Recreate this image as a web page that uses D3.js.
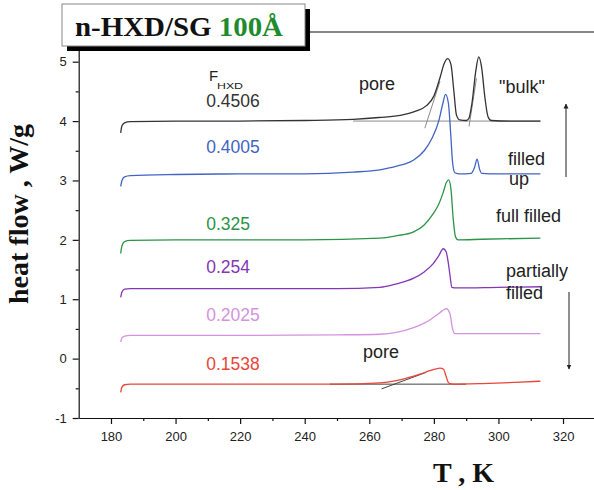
<!DOCTYPE html>
<html>
<head>
<meta charset="utf-8">
<script src="https://cdn.jsdelivr.net/npm/d3@7"></script>
<style>
  html, body { margin: 0; padding: 0; background: #fff; }
  svg { display: block; }
</style>
</head>
<body>
<svg id="chart"></svg>
<script>
// DSC heating curves, T in K, heat flow in W/g
const fractions = ["0.4506", "0.4005", "0.325", "0.254", "0.2025", "0.1538"];

const curveBlack = [[183, 3.80], [183.4, 3.92], [184.2, 3.97], [186, 3.99], [200, 4.0], [220, 4.0], [240, 4.01], [255, 4.03], [263, 4.06], [270, 4.1], [274, 4.16], [277.7, 4.26], [280, 4.42], [281.9, 4.73], [283.2, 4.97], [284.3, 5.05], [285.3, 4.95], [286.2, 4.5], [287, 4.1], [288, 4.02], [290, 4.01], [290.8, 4.04], [291.8, 4.3], [293, 4.85], [293.9, 5.08], [294.8, 4.9], [295.8, 4.4], [296.8, 4.07], [297.8, 4.01], [305, 4.0], [313, 4.0]];
const curveBlue = [[183, 2.90], [183.4, 3.0], [184.2, 3.06], [186, 3.08], [200, 3.1], [220, 3.11], [240, 3.11], [255, 3.14], [263.3, 3.18], [268.5, 3.24], [273.6, 3.34], [277, 3.5], [279.5, 3.72], [281.5, 4.0], [282.8, 4.3], [283.6, 4.45], [284.5, 4.3], [285.2, 3.8], [285.8, 3.3], [286.5, 3.13], [288, 3.11], [291.5, 3.12], [292.6, 3.22], [293.4, 3.36], [294.1, 3.2], [294.8, 3.12], [300, 3.11], [313, 3.11]];
const curveGreen = [[183, 1.77], [183.4, 1.9], [184.2, 1.97], [186, 1.99], [200, 2.0], [240, 2.0], [263.3, 2.03], [268.5, 2.07], [273.6, 2.13], [277, 2.25], [279.8, 2.44], [281.5, 2.6], [282.9, 2.8], [283.9, 2.97], [284.6, 3.01], [285.3, 2.85], [286, 2.35], [286.7, 2.05], [287.5, 2.0], [295, 2.01], [313, 2.03]];
const curvePurple = [[183, 1.03], [183.4, 1.12], [184.2, 1.17], [186, 1.18], [220, 1.18], [250, 1.18], [263.3, 1.2], [268.5, 1.26], [273.6, 1.35], [277, 1.46], [279.8, 1.6], [281.5, 1.73], [282.9, 1.85], [283.8, 1.8], [284.5, 1.6], [285, 1.4], [285.6, 1.2], [287, 1.19], [300, 1.2], [313, 1.21]];
const curvePink = [[183, 0.28], [183.4, 0.35], [184.2, 0.38], [186, 0.39], [220, 0.39], [250, 0.4], [263.3, 0.41], [268.4, 0.44], [273, 0.51], [276.7, 0.59], [279, 0.66], [280.8, 0.73], [282.5, 0.8], [283.9, 0.84], [285, 0.75], [285.8, 0.5], [286.5, 0.42], [295, 0.42], [313, 0.42]];
const curveRed = [[183, -0.57], [183.4, -0.48], [184.2, -0.44], [186, -0.43], [220, -0.43], [250, -0.43], [263.3, -0.41], [268.4, -0.37], [272, -0.32], [275.7, -0.26], [279, -0.2], [281.9, -0.16], [283, -0.18], [283.8, -0.3], [284.6, -0.41], [286, -0.43], [295, -0.42], [305, -0.4], [313, -0.38]];

// onset construction lines
const guideBaseTop = [[255, 4.0], [313, 4.0]];
const guidePoreTop = [[277.2, 3.88], [281.9, 4.67]];
const guideBulkTop = [[290.9, 3.91], [293.2, 4.72]];
const guideBaseLow = [[247.8, -0.43], [290, -0.43]];
const guidePoreLow = [[263.8, -0.51], [277.7, -0.23]];

const xTicks = [180, 200, 220, 240, 260, 280, 300, 320];
const xMinor = [190, 210, 230, 250, 270, 290, 310];
const yTicks = [-1, 0, 1, 2, 3, 4, 5];
const yMinor = [-0.5, 0.5, 1.5, 2.5, 3.5, 4.5];

const curves = [curveBlack, curveBlue, curveGreen, curvePurple, curvePink, curveRed];
const colors = ["#333333", "#4264c4", "#2a9448", "#8436b4", "#d493de", "#e8463a"];

const width = 594, height = 490;

const svg = d3.select("#chart")
    .attr("width", width)
    .attr("height", height)
    .style("font-family", "'Liberation Sans', Arial, sans-serif");

const x = d3.scaleLinear().domain([170, 330]).range([78.7, 595.3]);
const y = d3.scaleLinear().domain([-1, 5.5]).range([418, 32]);

const line = d3.line()
    .x(d => x(d[0]))
    .y(d => y(d[1]))
    .curve(d3.curveMonotoneX);

// axes
const gx = svg.append("g")
    .attr("transform", `translate(0,${y(-1)})`)
    .call(d3.axisBottom(x).tickValues(xTicks).tickSize(6).tickSizeOuter(0).tickPadding(8));
svg.append("g")
    .attr("transform", `translate(0,${y(-1)})`)
    .call(d3.axisBottom(x).tickValues(xMinor).tickSize(3).tickFormat(""))
    .select(".domain").remove();

const gy = svg.append("g")
    .attr("transform", `translate(${x(170)},0)`)
    .call(d3.axisLeft(y).tickValues(yTicks).tickSize(6).tickSizeOuter(0).tickPadding(6)
        .tickFormat(d => String(d)));
svg.append("g")
    .attr("transform", `translate(${x(170)},0)`)
    .call(d3.axisLeft(y).tickValues(yMinor).tickSize(3).tickFormat(""))
    .select(".domain").remove();

svg.selectAll(".domain, .tick line")
    .attr("stroke", "#111")
    .attr("stroke-width", 1.2);
svg.selectAll(".tick text")
    .attr("font-size", 13)
    .attr("fill", "#222")
    .style("font-family", "'Liberation Sans', Arial, sans-serif");

// top frame line
svg.append("line")
    .attr("x1", x(170)).attr("x2", width)
    .attr("y1", y(5.5)).attr("y2", y(5.5))
    .attr("stroke", "#111")
    .attr("stroke-width", 1.2);

// guides
[guideBaseTop, guidePoreTop, guideBulkTop].forEach(g => {
    svg.append("path").attr("d", d3.line().x(d => x(d[0])).y(d => y(d[1]))(g))
        .attr("fill", "none").attr("stroke", "#8a8a8a").attr("stroke-width", 1);
});
[guideBaseLow, guidePoreLow].forEach(g => {
    svg.append("path").attr("d", d3.line().x(d => x(d[0])).y(d => y(d[1]))(g))
        .attr("fill", "none").attr("stroke", "#444").attr("stroke-width", 1);
});

// curves
svg.selectAll("path.curve")
    .data(curves)
    .enter()
    .append("path")
    .attr("class", "curve")
    .attr("d", line)
    .attr("fill", "none")
    .attr("stroke", (d, i) => colors[i])
    .attr("stroke-width", 1.3);

// fraction labels
const labelY = [4.24, 3.46, 2.16, 1.44, 0.64, -0.2];
svg.selectAll("text.frac")
    .data(fractions)
    .enter()
    .append("text")
    .attr("class", "frac")
    .attr("x", x(209.5))
    .attr("y", (d, i) => y(labelY[i]))
    .attr("font-size", 17.5)
    .attr("fill", (d, i) => colors[i])
    .text(d => d);

svg.append("text")
    .attr("x", 209).attr("y", 80.5)
    .attr("font-size", 15).attr("fill", "#222")
    .text("F");
svg.append("text")
    .attr("x", 217).attr("y", 89)
    .attr("font-size", 8.5).attr("fill", "#222")
    .attr("textLength", 26).attr("lengthAdjust", "spacingAndGlyphs")
    .text("HXD");

// annotations
const notes = [
    ["pore", 359, 90],
    ["\"bulk\"", 499, 93],
    ["filled", 508, 165],
    ["up", 509, 185],
    ["full filled", 496, 222],
    ["partially", 506, 277],
    ["filled", 506, 299],
    ["pore", 363, 358]
];
svg.selectAll("text.note")
    .data(notes)
    .enter()
    .append("text")
    .attr("class", "note")
    .attr("x", d => d[1])
    .attr("y", d => d[2])
    .attr("font-size", 18)
    .attr("fill", "#222")
    .text(d => d[0]);

// arrows
const defs = svg.append("defs");
defs.append("marker")
    .attr("id", "head")
    .attr("viewBox", "0 0 10 10")
    .attr("refX", 9).attr("refY", 5)
    .attr("markerWidth", 5).attr("markerHeight", 7)
    .attr("markerUnits", "userSpaceOnUse")
    .attr("orient", "auto")
    .append("path")
    .attr("d", "M0,0L10,5L0,10Z")
    .attr("fill", "#222");
svg.append("line")
    .attr("x1", 566).attr("y1", 177).attr("x2", 566).attr("y2", 104)
    .attr("stroke", "#444").attr("stroke-width", 1.2)
    .attr("marker-end", "url(#head)");
svg.append("line")
    .attr("x1", 569).attr("y1", 292).attr("x2", 569).attr("y2", 369)
    .attr("stroke", "#444").attr("stroke-width", 1.2)
    .attr("marker-end", "url(#head)");

// axis titles
svg.append("text")
    .attr("transform", "translate(28,214) rotate(-90)")
    .attr("text-anchor", "middle")
    .style("font-family", "'Liberation Serif', 'Times New Roman', serif")
    .attr("font-weight", "bold")
    .attr("font-size", 28)
    .attr("fill", "#111")
    .text("heat flow , W/g");
svg.append("text")
    .attr("x", 433).attr("y", 482)
    .style("font-family", "'Liberation Serif', 'Times New Roman', serif")
    .attr("font-weight", "bold")
    .attr("font-size", 28)
    .attr("fill", "#111")
    .text("T , K");

// title box with shadow
svg.append("rect")
    .attr("x", 67).attr("y", 9).attr("width", 243).attr("height", 42)
    .attr("fill", "#000");
svg.append("rect")
    .attr("x", 62).attr("y", 4).attr("width", 243).attr("height", 42)
    .attr("fill", "#fff").attr("stroke", "#888").attr("stroke-width", 1);
const title = svg.append("text")
    .attr("x", 75).attr("y", 36)
    .style("font-family", "'Liberation Serif', 'Times New Roman', serif")
    .attr("font-weight", "bold")
    .attr("font-size", 27)
    .attr("fill", "#111")
    .attr("textLength", 208)
    .attr("lengthAdjust", "spacingAndGlyphs");
title.append("tspan").text("n-HXD/SG ");
title.append("tspan").attr("fill", "#1e8c2e").text("100Å");
</script>
</body>
</html>
